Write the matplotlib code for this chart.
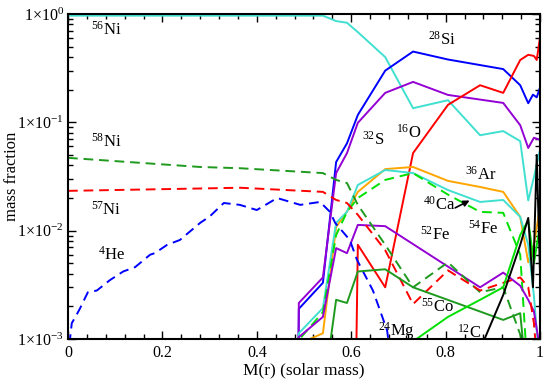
import matplotlib
matplotlib.use('Agg')
import matplotlib.pyplot as plt
from matplotlib.ticker import FixedLocator, MultipleLocator, LogLocator, NullFormatter

plt.rcParams['font.family'] = ['Liberation Serif', 'DejaVu Serif']
plt.rcParams['mathtext.fontset'] = 'custom'
plt.rcParams['mathtext.rm'] = 'Liberation Serif'
plt.rcParams['mathtext.it'] = 'Liberation Serif:italic'

# mass coordinate (solar mass) and mass fraction for each species
ni56_m = [0.0, 0.54, 0.568, 0.591, 0.614, 0.672, 0.731, 0.805, 0.873, 0.922, 0.958, 0.975, 0.987, 1.0]
ni56_x = [0.965, 0.965, 0.86, 0.83, 0.68, 0.40, 0.135, 0.16, 0.076, 0.083, 0.067, 0.019, 0.031, 0.056]

si28_m = [0.485, 0.489, 0.54, 0.568, 0.591, 0.614, 0.672, 0.731, 0.805, 0.922, 0.958, 0.975, 0.985, 0.993, 1.0]
si28_x = [1e-5, 0.0019, 0.0033, 0.043, 0.064, 0.117, 0.30, 0.45, 0.38, 0.31, 0.22, 0.15, 0.18, 0.17, 0.21]

s32_m = [0.485, 0.489, 0.54, 0.568, 0.591, 0.614, 0.672, 0.731, 0.805, 0.922, 0.958, 0.975, 0.987, 1.0]
s32_x = [1e-5, 0.00215, 0.0037, 0.034, 0.052, 0.099, 0.187, 0.236, 0.179, 0.151, 0.094, 0.058, 0.072, 0.069]

o16_m = [0.591, 0.614, 0.672, 0.731, 0.805, 0.873, 0.922, 0.958, 0.975, 0.987, 0.993, 1.0]
o16_x = [1e-9, 0.0074, 0.0030, 0.052, 0.145, 0.22, 0.187, 0.376, 0.42, 0.41, 0.376, 0.61]

ar36_m = [0.489, 0.54, 0.568, 0.591, 0.614, 0.672, 0.731, 0.805, 0.873, 0.922, 0.958, 0.975, 0.987, 1.0]
ar36_x = [0.0009, 0.00113, 0.0108, 0.015, 0.0228, 0.037, 0.0387, 0.0288, 0.0253, 0.0228, 0.0134, 0.0051, 0.0074, 0.0165]

ca40_m = [0.485, 0.489, 0.54, 0.568, 0.591, 0.614, 0.672, 0.731, 0.805, 0.873, 0.922, 0.958, 0.975, 0.987, 1.0]
ca40_x = [1e-5, 0.00113, 0.00193, 0.0118, 0.0149, 0.0264, 0.0363, 0.034, 0.0237, 0.0184, 0.0192, 0.0134, 0.0074, 0.0025, 0.0005]

fe54_m = [0.485, 0.489, 0.54, 0.568, 0.591, 0.614, 0.672, 0.731, 0.765, 0.805, 0.873, 0.922, 0.958, 0.975]
fe54_x = [1e-5, 0.00098, 0.00177, 0.0091, 0.0149, 0.020, 0.0294, 0.034, 0.0275, 0.0215, 0.0149, 0.0146, 0.006, 0.0004]

fe52_m = [0.485, 0.489, 0.54, 0.568, 0.591, 0.614, 0.672, 0.873, 0.922, 0.958, 0.975, 0.987, 1.0]
fe52_x = [1e-5, 0.00104, 0.0016, 0.0069, 0.0062, 0.0113, 0.011, 0.0030, 0.0041, 0.0031, 0.0023, 0.0018, 0.0008]

ni58_m = [0.0, 0.28, 0.364, 0.54, 0.568, 0.591, 0.614, 0.672, 0.731, 0.805, 0.873, 0.922, 0.958, 0.975]
ni58_x = [0.047, 0.0387, 0.0377, 0.034, 0.0294, 0.0275, 0.0173, 0.0074, 0.0030, 0.0051, 0.0027, 0.0030, 0.0011, 0.0003]

ni57_m = [0.0, 0.28, 0.364, 0.54, 0.568, 0.591, 0.614, 0.672, 0.731, 0.805, 0.873, 0.922, 0.958, 0.975, 0.987, 1.0]
ni57_x = [0.0233, 0.0245, 0.0249, 0.0228, 0.0192, 0.018, 0.014, 0.0066, 0.0021, 0.0043, 0.0028, 0.0033, 0.0037, 0.0030, 0.0014, 0.0003]

he4_m = [0.003, 0.008, 0.019, 0.025, 0.042, 0.061, 0.089, 0.117, 0.142, 0.174, 0.184, 0.210, 0.237,
         0.28, 0.30, 0.33, 0.364, 0.40, 0.443, 0.492, 0.534, 0.555, 0.566, 0.597, 0.612, 0.646, 0.676, 0.69]
he4_x = [0.0009, 0.0014, 0.0017, 0.0019, 0.0027, 0.0028, 0.0035, 0.0042, 0.0046, 0.006, 0.0062, 0.0074, 0.0082,
         0.0118, 0.0135, 0.018, 0.0173, 0.0155, 0.020, 0.0173, 0.0184, 0.0149, 0.0118, 0.0082, 0.0054, 0.0028, 0.0012, 0.0004]

co55_m = [0.54, 0.568, 0.591, 0.614, 0.672, 0.731, 0.922, 0.958, 0.975]
co55_x = [0.0003, 0.0023, 0.00215, 0.0042, 0.0044, 0.0030, 0.0015, 0.00173, 0.0003]

mg24_m = [0.672, 0.731, 0.805, 0.873, 0.922, 0.958, 0.975, 0.987, 1.0]
mg24_x = [0.0001, 0.00095, 0.0016, 0.0023, 0.0030, 0.0091, 0.0125, 0.0050, 0.0113]

c12_m = [0.873, 0.922, 0.958, 0.975, 0.985, 0.993, 1.0]
c12_x = [0.0008, 0.00255, 0.0074, 0.0131, 0.003, 0.05, 0.004]

# label text and where it sits (mass, fraction)
label_text = [r'$^{56}$Ni', r'$^{58}$Ni', r'$^{57}$Ni', r'$^{4}$He', r'$^{28}$Si', r'$^{32}$S',
              r'$^{16}$O', r'$^{36}$Ar', r'$^{40}$Ca', r'$^{54}$Fe', r'$^{52}$Fe', r'$^{55}$Co',
              r'$^{24}$Mg', r'$^{12}$C']
label_m = [0.08, 0.08, 0.08, 0.093, 0.792, 0.646, 0.722, 0.875, 0.786, 0.879, 0.778, 0.782, 0.695, 0.85]
label_y = [0.71, 0.066, 0.0155, 0.006, 0.575, 0.069, 0.08, 0.033, 0.0173, 0.0104, 0.0091, 0.0020, 0.00118, 0.00114]

turq = '#40E0D0'
violet = '#9400D3'
dash = (0, (5, 3))

fig = plt.figure(figsize=(5.45, 3.82), dpi=100)
ax = fig.add_axes([0.1248, 0.1126, 0.8661, 0.8508])

lw = 1.4
ax.plot(ni56_m, ni56_x, color=turq, lw=lw)
ax.plot(si28_m, si28_x, color='blue', lw=lw)
ax.plot(s32_m, s32_x, color=violet, lw=lw)
ax.plot(o16_m, o16_x, color='red', lw=lw)
ax.plot(ar36_m, ar36_x, color='orange', lw=lw)
ax.plot(ca40_m, ca40_x, color=turq, lw=lw)
ax.plot(fe54_m, fe54_x, color='#00E000', lw=lw, linestyle=dash)
ax.plot(fe52_m, fe52_x, color=violet, lw=lw)
ax.plot(ni58_m, ni58_x, color='#1E9A1E', lw=lw, linestyle=dash)
ax.plot(ni57_m, ni57_x, color='red', lw=lw, linestyle=dash)
ax.plot(he4_m, he4_x, color='blue', lw=lw, linestyle=dash)
ax.plot(co55_m, co55_x, color='#1E9A1E', lw=lw)
ax.plot(mg24_m, mg24_x, color='#00E000', lw=lw)
ax.plot(c12_m, c12_x, color='black', lw=lw)

for t, m, y in zip(label_text, label_m, label_y):
    ax.text(m, y, t, fontsize=12, ha='center', va='center')

# arrow from the 40Ca label
ax.annotate('', xy=(0.856, 0.0195), xytext=(0.815, 0.0158),
            arrowprops=dict(arrowstyle='-|>', color='black', lw=1.2, mutation_scale=9))

ax.set_yscale('log')
ax.set_xlim(0, 1)
ax.set_ylim(1e-3, 1)

ax.xaxis.set_major_locator(FixedLocator([0, 0.2, 0.4, 0.6, 0.8, 1.0]))
ax.xaxis.set_minor_locator(MultipleLocator(0.04))
ax.set_xticklabels(['0', '0.2', '0.4', '0.6', '0.8', '1'])
ax.yaxis.set_major_locator(FixedLocator([1e-3, 1e-2, 1e-1, 1]))
ax.yaxis.set_minor_locator(LogLocator(base=10, subs=range(2, 10)))
ax.yaxis.set_minor_formatter(NullFormatter())
ax.set_yticklabels([r'1$\times$10$^{-3}$', r'1$\times$10$^{-2}$', r'1$\times$10$^{-1}$', r'1$\times$10$^{0}$'])

ax.tick_params(which='both', direction='in', top=True, right=True, labelsize=11.5, width=1.0)
ax.tick_params(which='major', length=6, pad=4)
ax.tick_params(which='minor', length=3.5)
ax.tick_params(axis='y', which='major', pad=3)
for s in ax.spines.values():
    s.set_linewidth(1.5)

ax.set_xlabel('M(r) (solar mass)', fontsize=12.5, labelpad=1)
ax.set_ylabel('mass fraction', fontsize=12)
ax.yaxis.set_label_coords(-0.102, 0.5)

fig.savefig('out.png', dpi=100)
